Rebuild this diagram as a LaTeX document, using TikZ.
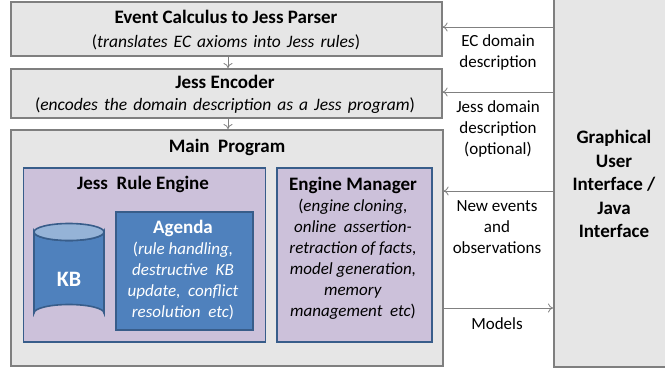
\documentclass[tikz,border=0pt]{standalone}
\usepackage{fontspec}
\setmainfont{Carlito}
\usetikzlibrary{shapes.geometric,arrows.meta}
\definecolor{boxfill}{HTML}{E6E6E6}
\definecolor{boxline}{HTML}{7F7F7F}
\definecolor{lav}{HTML}{CCC1DA}
\definecolor{bluefill}{HTML}{4F81BD}
\definecolor{blueline}{HTML}{385D8A}
\definecolor{bluetop}{HTML}{95B3D7}
\definecolor{arrcol}{HTML}{808080}
\tikzset{
  greybox/.style={draw=boxline, fill=boxfill, line width=1.6pt, anchor=north west, inner sep=0pt},
  lavbox/.style={draw=blueline, fill=lav, line width=1.6pt, anchor=north west, inner sep=0pt},
  bluebox/.style={draw=blueline, fill=bluefill, line width=1.6pt, anchor=north west, inner sep=0pt},
  txt/.style={align=center, inner sep=0pt, font=\fontsize{17}{21}\selectfont},
  ttl/.style={align=center, inner sep=0pt, font=\fontsize{19}{23.5}\selectfont\bfseries},
  arr/.style={draw=arrcol, line width=0.8pt, -{To[length=5pt,width=9pt]}},
}
\newcommand{\bt}[1]{{\fontsize{19}{21}\selectfont\bfseries #1}}
\newcommand{\ws}{\hspace{0.12em}}
\begin{document}
\begin{tikzpicture}[x=1pt,y=-1pt]
\useasboundingbox (0,0) rectangle (665,368);
% boxes
\node[greybox, minimum width=431pt, minimum height=54pt] (ec) at (10,1) {};
\node[greybox, minimum width=431pt, minimum height=49pt] (enc) at (10,68) {};
\node[greybox, minimum width=432pt, minimum height=236pt] (main) at (10,129) {};
\node[greybox, minimum width=130pt, minimum height=380pt] (gui) at (553,-14) {};
\node[lavbox, minimum width=242pt, minimum height=174pt] (jre) at (22.5,167) {};
\node[lavbox, minimum width=155pt, minimum height=174pt] (em) at (276,167) {};
\node[bluebox, minimum width=137pt, minimum height=118pt] (ag) at (115,211) {};
% cylinder
\path[draw=blueline, fill=bluefill, line width=1.6pt]
  (34,232) -- (34,313) arc[start angle=180, end angle=360, x radius=35, y radius=8.5]
  -- (104,232) arc[start angle=0, end angle=180, x radius=35, y radius=8.5] -- cycle;
\node[draw=blueline, fill=bluetop, line width=1.6pt, ellipse, minimum width=70pt, minimum height=17pt, inner sep=0pt] (kb) at (69,232) {};
% texts
\node[txt, font=\fontsize{17.5}{23.5}\selectfont] (ect) at (226,30) {\bt{Event Calculus to Jess Parser}\\(\textit{translates \ws EC \ws axioms \ws into \ws Jess \ws rules})};
\node[txt, font=\fontsize{17.5}{22}\selectfont] (enct) at (225,94) {\bt{Jess Encoder}\\(\textit{encodes \ws the \ws domain \ws description \ws as \ws a \ws Jess \ws program})};
\node[ttl] (maint) at (227,147) {Main~ Program};
\node[ttl] (jret) at (143,184) {Jess~ Rule Engine};
\node[ttl, text=white, font=\fontsize{22}{23}\selectfont\bfseries] (kbt) at (69,279) {KB};
\node[txt, text=white] (agt) at (183,270) {\bt{Agenda}\\(\textit{rule handling,}\\\textit{destructive~ KB}\\\textit{update,~ conflict}\\\textit{resolution~ etc})};
\node[txt] (emt) at (353,248.5) {\bt{Engine Manager}\\(\textit{engine cloning,}\\\textit{online~ assertion-}\\\textit{retraction of facts,}\\\textit{model generation,}\\\textit{memory}\\\textit{management~ etc})};
\node[ttl] (guit) at (614,184) {Graphical\\User\\Interface /\\Java\\Interface};
% labels
\node[txt] (l1) at (498,52) {EC domain\\description};
\node[txt] (l2) at (498,129) {Jess domain\\description\\(optional)};
\node[txt] (l3) at (497,227) {New events\\and\\observations};
\node[txt] (l4) at (497,324) {Models};
% connectors
\draw[arr] (gui.west |- 0,27) -- (ec.east |- 0,27);
\draw[arr] (gui.west |- 0,92) -- (enc.east |- 0,92);
\draw[arr] (gui.west |- 0,191) -- (main.east |- 0,191);
\draw[arr] (main.east |- 0,308) -- (gui.west |- 0,308);
\draw[arr] (ec.south -| 228,0) -- (enc.north -| 228,0);
\draw[arr] (enc.south -| 228,0) -- (main.north -| 228,0);
\end{tikzpicture}
\end{document}
